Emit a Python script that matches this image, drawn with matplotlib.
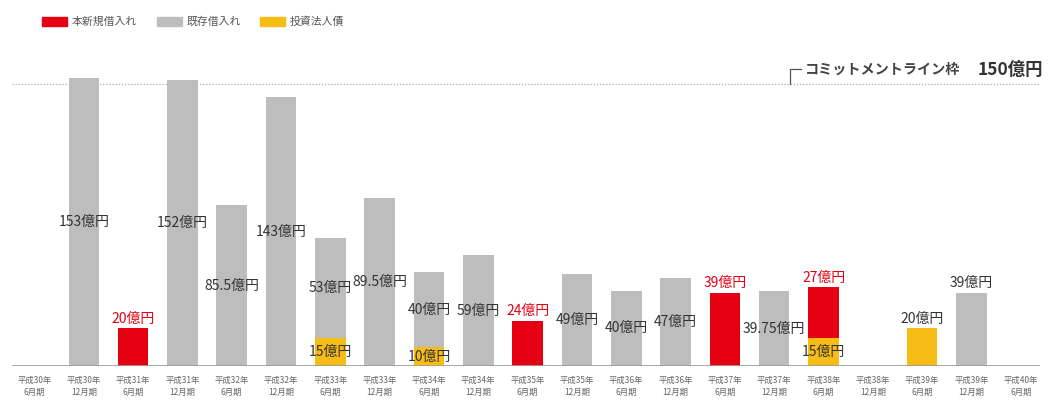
import numpy as np
import matplotlib
matplotlib.use("Agg")
import matplotlib.pyplot as plt
from matplotlib.patches import Rectangle

plt.rcParams['font.family'] = ['Noto Sans CJK JP', 'DejaVu Sans']

# data (億円)
periods = ['平成30年\n6月期', '平成30年\n12月期', '平成31年\n6月期', '平成31年\n12月期',
           '平成32年\n6月期', '平成32年\n12月期', '平成33年\n6月期', '平成33年\n12月期',
           '平成34年\n6月期', '平成34年\n12月期', '平成35年\n6月期', '平成35年\n12月期',
           '平成36年\n6月期', '平成36年\n12月期', '平成37年\n6月期', '平成37年\n12月期',
           '平成38年\n6月期', '平成38年\n12月期', '平成39年\n6月期', '平成39年\n12月期',
           '平成40年\n6月期']
new_loans = [0, 0, 20, 0, 0, 0, 0, 0, 0, 0, 24, 0, 0, 0, 39, 0, 27, 0, 0, 0, 0]
existing = [0, 153, 0, 152, 85.5, 143, 53, 89.5, 40, 59, 0, 49, 40, 47, 0, 39.75, 0, 0, 0, 39, 0]
bonds = [0, 0, 0, 0, 0, 0, 15, 0, 10, 0, 0, 0, 0, 0, 0, 0, 15, 0, 20, 0, 0]
commit_line = 150
series_names = ['本新規借入れ', '既存借入れ', '投資法人債']

RED = '#e50012'
GRAY = '#bdbdbd'
YELLOW = '#f6bd16'
TXT = '#333333'

W, H = 1049, 405
fig = plt.figure(figsize=(W / 100, H / 100), dpi=100)
ax = fig.add_axes([12 / W, 39 / H, (1040 - 12) / W, (366 - 50) / H])

x = np.arange(len(periods))
bw = 0.62
bonds = np.array(bonds, dtype=float)
existing = np.array(existing, dtype=float)
new_loans = np.array(new_loans, dtype=float)

ax.bar(x, bonds, bw, color=YELLOW, zorder=2)
ax.bar(x, existing, bw, bottom=bonds, color=GRAY, zorder=2)
ax.bar(x, new_loans, bw, bottom=bonds, color=RED, zorder=2)

fs = 10
off = 5
for i in x:
    b, g, r = bonds[i], existing[i], new_loans[i]
    if b > 0:
        if g == 0 and r == 0:
            ax.text(i, b + off, f'{b:g}億円', ha='center', va='center', fontsize=fs, color=TXT)
        else:
            ax.text(i, b / 2, f'{b:g}億円', ha='center', va='center', fontsize=fs, color=TXT, zorder=3)
    if g > 0:
        if i == 19:
            ax.text(i, b + g + off, f'{g:g}億円', ha='center', va='center', fontsize=fs, color=TXT)
        else:
            ax.text(i, b + g / 2, f'{g:g}億円', ha='center', va='center', fontsize=fs, color=TXT, zorder=3)
    if r > 0:
        ax.text(i, b + r + off, f'{r:g}億円', ha='center', va='center', fontsize=fs, color=RED)

ax.axhline(0, color='#9a9a9a', lw=1.2, zorder=3)
ax.axhline(commit_line, color='#aaaaaa', lw=0.9, ls=(0, (1, 1.5)), zorder=1)

# commitment line annotation
x0, x1 = 15.32, 15.55
ax.plot([x0, x0, x1], [commit_line, 158, 158], color='#555555', lw=0.9, clip_on=False)
ax.text(15.62, 157.5, 'コミットメントライン枠', ha='left', va='center', fontsize=10.2,
        fontweight='bold', color='#444444')
ax.text(20.45, 157.5, f'{commit_line}億円', ha='right', va='center', fontsize=12.5,
        fontweight='bold', color='#333333')

ax.set_xlim(-0.456, 20.39)
ax.set_ylim(0, 168)
ax.set_xticks(x)
ax.set_xticklabels(periods, fontsize=6, color='#666666', linespacing=1.4)
ax.tick_params(axis='x', length=0, pad=7)
ax.set_yticks([])
for s in ax.spines.values():
    s.set_visible(False)

# legend
leg_items = [(42, RED), (157, GRAY), (260, YELLOW)]
for (px, c), name in zip(leg_items, series_names):
    fig.add_artist(Rectangle((px / W, 1 - 26 / H), 25 / W, 9 / H, color=c,
                             transform=fig.transFigure))
    fig.text((px + 30) / W, 1 - 21.5 / H, name, fontsize=7.8, color='#555555', va='center')

fig.savefig('out.png', dpi=100)
